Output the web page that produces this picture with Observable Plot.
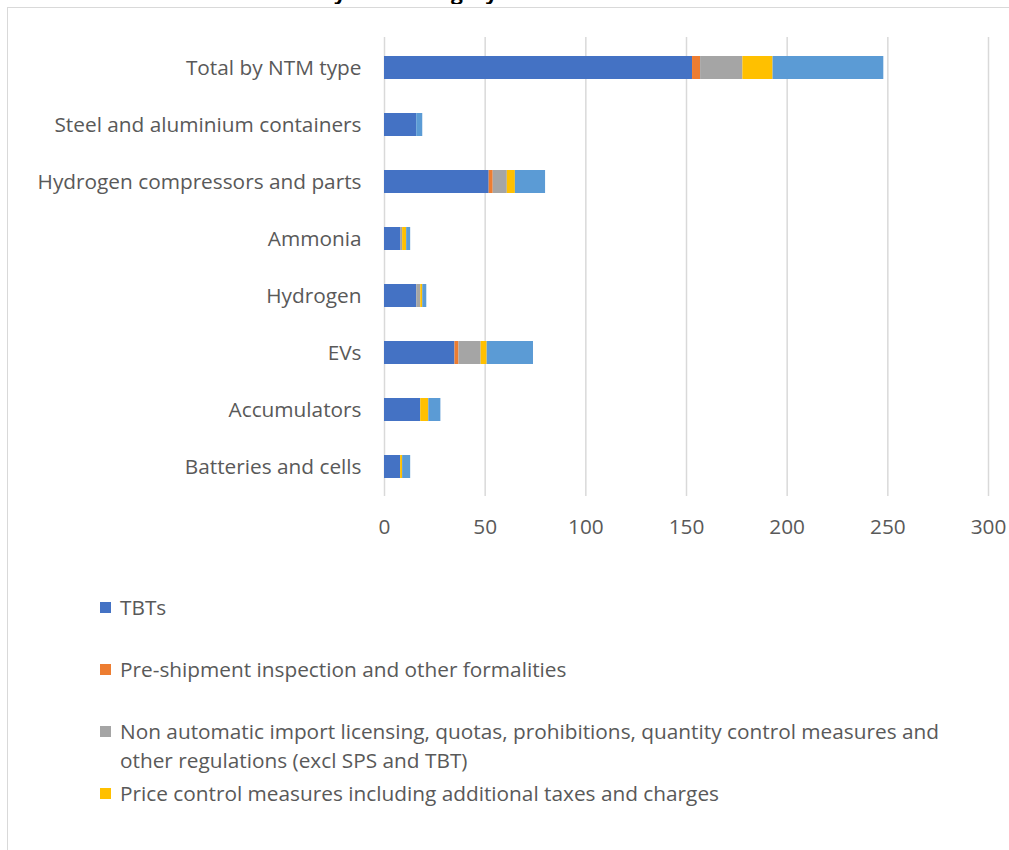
<!DOCTYPE html>
<html>
<head>
<meta charset="utf-8">
<script src="https://cdn.jsdelivr.net/npm/d3@7"></script>
<script src="https://cdn.jsdelivr.net/npm/@observablehq/plot@0.6"></script>
<style>
  html, body { margin: 0; padding: 0; background: #fff; }
  body { width: 1009px; height: 850px; position: relative; overflow: hidden; font-family: "Open Sans", Lato, sans-serif; }
  #frame { position: absolute; left: 7px; top: 7px; width: 1100px; height: 1000px; border-left: 1.5px solid #d9d9d9; border-top: 1.5px solid #d9d9d9; }
  #titleclip { position: absolute; left: 0; top: 0; width: 1009px; height: 4px; overflow: hidden; }
  #title { position: absolute; left: 30px; top: -22px; font-weight: bold; font-size: 21px; color: #000; white-space: nowrap; font-family: "Open Sans", sans-serif; }
  #chart { position: absolute; left: 0; top: 0; }
  .leg { position: absolute; left: 100px; font-size: 20.8px; color: #595959; line-height: 29px; }
  .leg .sw { position: absolute; left: 0; top: 9px; width: 11px; height: 11px; }
  .leg .tx { margin-left: 20px; width: 850px; }
</style>
</head>
<body>
<div id="frame"></div>
<div id="titleclip"><div id="title">Number of identified NTMs by NTM category and selected HS codes</div></div>
<div id="chart"></div>
<div id="legend"></div>
<script>
// Categories, top to bottom
const categories = [
  "Total by NTM type",
  "Steel and aluminium containers",
  "Hydrogen compressors and parts",
  "Ammonia",
  "Hydrogen",
  "EVs",
  "Accumulators",
  "Batteries and cells"
];
const seriesNames = [
  "TBTs",
  "Pre-shipment inspection and other formalities",
  "Non automatic import licensing, quotas, prohibitions, quantity control measures and other regulations (excl SPS and TBT)",
  "Price control measures including additional taxes and charges",
  "Other measures"
];
const seriesColors = ["#4472C4", "#ED7D31", "#A5A5A5", "#FFC000", "#5B9BD5"];
// values in category order (top to bottom)
const tbts         = [153, 16, 52, 8, 16, 35, 18, 8];
const preShipment  = [4, 0, 2, 0, 0, 2, 0, 0];
const nonAutomatic = [21, 0, 7, 1, 2, 11, 0, 0];
const priceControl = [15, 0, 4, 2, 1, 3, 4, 1];
const otherNtms    = [55, 3, 15, 2, 2, 23, 6, 4];
const xTicks = [0, 50, 100, 150, 200, 250, 300];
const legendShown = [0, 1, 2, 3];

const seriesValues = [tbts, preShipment, nonAutomatic, priceControl, otherNtms];
const data = [];
seriesNames.forEach((s, si) => {
  categories.forEach((c, ci) => {
    data.push({category: c, series: s, value: seriesValues[si][ci]});
  });
});

const chart = Plot.plot({
  width: 1009,
  height: 560,
  marginLeft: 384,
  marginRight: 21,
  marginTop: 37,
  marginBottom: 64,
  style: {fontFamily: "'Open Sans', Lato, sans-serif", fontSize: "20.8px", color: "#595959", background: "transparent", overflow: "visible"},
  x: {domain: [0, 300], label: null},
  y: {domain: categories, paddingInner: 0.6, paddingOuter: 0.3, label: null},
  color: {domain: seriesNames, range: seriesColors},
  marks: [
    Plot.ruleX(xTicks, {stroke: "#d9d9d9", strokeWidth: 1.5}),
    Plot.barX(data, {x: "value", y: "category", fill: "series", order: seriesNames}),
    Plot.axisX({ticks: xTicks, tickSize: 0, tickPadding: 23, label: null, fill: "#595959"}),
    Plot.axisY({tickSize: 0, tickPadding: 23, label: null, fill: "#595959"})
  ]
});
document.getElementById("chart").appendChild(chart);

const legendTops = [593, 655, 717, 779];
const legend = document.getElementById("legend");
legendShown.forEach((si, k) => {
  const d = document.createElement("div");
  d.className = "leg";
  d.style.top = legendTops[k] + "px";
  const sw = document.createElement("div");
  sw.className = "sw";
  sw.style.background = seriesColors[si];
  const tx = document.createElement("div");
  tx.className = "tx";
  tx.textContent = seriesNames[si];
  d.appendChild(sw);
  d.appendChild(tx);
  legend.appendChild(d);
});
</script>
</body>
</html>
